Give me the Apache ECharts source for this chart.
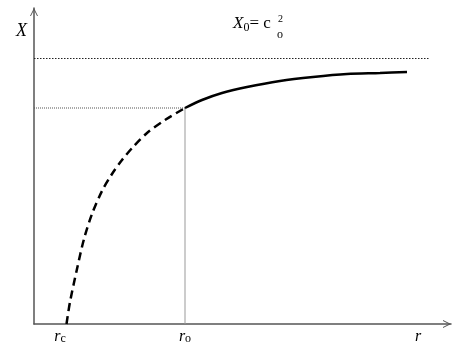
<!DOCTYPE html>
<html>
<head>
<meta charset="utf-8">
<script src="https://cdn.jsdelivr.net/npm/echarts@6/dist/echarts.min.js"></script>
<style>html,body{margin:0;padding:0;background:#fff;}#c{width:461px;height:354px;}</style>
</head>
<body>
<div id="c"></div>
<script>
// r axis range and X axis range (arbitrary units)
var rMax = 417;
var xMax = 316;
// key values
var rC = 32.5;
var rO = 151;
var X0 = 265.5;
var Xo = 216;
var X0LineEnd = 396;
// tick labels on r axis
var tickValues = [26, 151, 384];
var tickLabels = ['{i|r}{s|c}', '{i|r}{s|o}', '{i|r}'];
// dashed part of the curve (r < r_o)
var dashedCurve = [[32.5,0],[36,22],[43,55],[50,85],[58,110],[68,133],[78,150],[88,164],[99,177],[113,191],[131,204],[151,216]];
// solid part of the curve (r > r_o)
var solidCurve = [[151,216],[168,224],[188,231],[213,237],[246,243],[279,247],[313,250],[346,251],[373,252]];

var chevron = 'path://M0,10 L5,0 L10,10 L8.8,10 L5,2.6 L1.2,10 Z';
var serif = '"Liberation Serif", "Times New Roman", serif';

var chart = echarts.init(document.getElementById('c'), null, {renderer: 'canvas'});
chart.setOption({
  animation: false,
  backgroundColor: '#fff',
  title: [
    {text: 'X', left: 11, top: 17, textStyle: {fontFamily: serif, fontStyle: 'italic', fontWeight: 'normal', fontSize: 18, color: '#000'}},
    {text: '{x|X}{s|0}{n|= c}', left: 228, top: 9, textStyle: {fontWeight: 'normal', rich: {
      x: {fontFamily: serif, fontStyle: 'italic', fontWeight: 'normal', fontSize: 17, lineHeight: 20, color: '#000'},
      s: {fontFamily: serif, fontWeight: 'normal', fontSize: 12, lineHeight: 11, verticalAlign: 'bottom', color: '#000'},
      n: {fontFamily: serif, fontWeight: 'normal', fontSize: 17, lineHeight: 20, color: '#000'}
    }}},
    {text: '2', left: 273, top: 9, textStyle: {fontFamily: serif, fontWeight: 'normal', fontSize: 10, color: '#000'}},
    {text: 'o', left: 272, top: 24, textStyle: {fontFamily: serif, fontWeight: 'normal', fontSize: 12, color: '#000'}}
  ],
  grid: {left: 34, right: 10, top: 8, bottom: 30, containLabel: false},
  xAxis: {
    type: 'value', min: 0, max: rMax,
    axisLine: {show: true, symbol: ['none', chevron], symbolSize: [8, 8], symbolOffset: [0, -4], lineStyle: {color: '#555', width: 1.5}},
    axisTick: {show: false},
    splitLine: {show: false},
    axisLabel: {
      show: true, customValues: tickValues, margin: 5,
      formatter: function (v) { var i = tickValues.indexOf(v); return i >= 0 ? tickLabels[i] : ''; },
      rich: {
        i: {fontFamily: serif, fontStyle: 'italic', fontSize: 16, lineHeight: 16, color: '#000'},
        s: {fontFamily: serif, fontSize: 12, lineHeight: 10, verticalAlign: 'bottom', color: '#000'}
      }
    }
  },
  yAxis: {
    type: 'value', min: 0, max: xMax,
    axisLine: {show: true, symbol: ['none', chevron], symbolSize: [8, 8], symbolOffset: [0, -4], lineStyle: {color: '#555', width: 1.5}},
    axisTick: {show: false},
    splitLine: {show: false},
    axisLabel: {show: false}
  },
  series: [
    {type: 'line', silent: true, symbol: 'none', data: [[0, X0], [X0LineEnd, X0]], lineStyle: {color: '#222', width: 1, type: [1.5, 1.5]}},
    {type: 'line', silent: true, symbol: 'none', data: [[0, Xo], [rO, Xo]], lineStyle: {color: '#555', width: 1, type: [1, 1]}},
    {type: 'line', silent: true, symbol: 'none', data: [[rO, 0], [rO, Xo]], lineStyle: {color: '#999', width: 1}},
    {type: 'line', silent: true, symbol: 'none', smooth: 0.3, data: dashedCurve, lineStyle: {color: '#000', width: 2.5, type: [8, 5]}},
    {type: 'line', silent: true, symbol: 'none', smooth: 0.3, data: solidCurve, lineStyle: {color: '#000', width: 2.5}}
  ]
});
</script>
</body>
</html>
